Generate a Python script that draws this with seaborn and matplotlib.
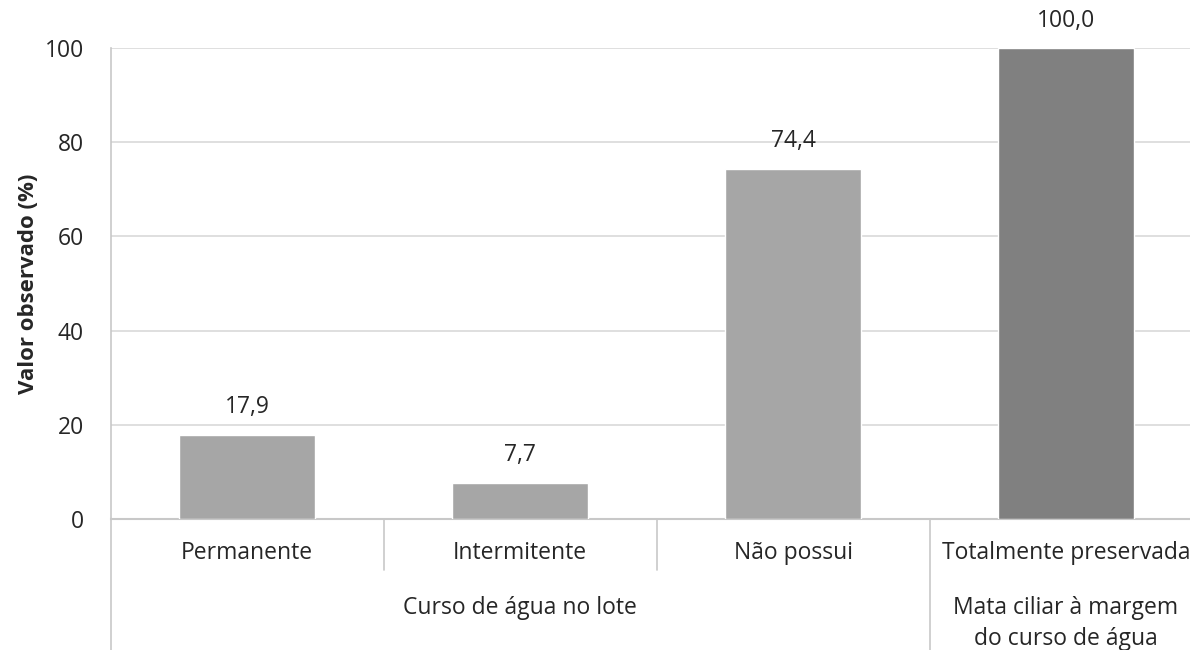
import seaborn as sns
import matplotlib.pyplot as plt
import matplotlib.transforms as mtransforms
import pandas as pd

categorias = ["Permanente", "Intermitente", "Não possui", "Totalmente preservada"]
valores = [17.9, 7.7, 74.4, 100.0]
cores = ["#A6A6A6", "#A6A6A6", "#A6A6A6", "#808080"]
grupos = ["Curso de água no lote", "Mata ciliar à margem\ndo curso de água"]
grupo_tam = [3, 1]
yticks = [0, 20, 40, 60, 80, 100]

df = pd.DataFrame({"cat": categorias, "val": valores})

sns.set_style("white")
plt.rcParams["font.family"] = ["Open Sans", "DejaVu Sans"]
fs = 16.5

fig = plt.figure(figsize=(11.9, 6.5), dpi=100)
ax = fig.add_axes([110.5 / 1190, 131 / 650, 1092 / 1190, 471 / 650])

sns.barplot(data=df, x="cat", y="val", hue="cat", palette=cores, legend=False,
            width=0.5, saturation=1, ax=ax, zorder=3)

ax.set_ylim(0, 100)
ax.set_xlim(-0.5, len(categorias) - 0.5)
ax.set_yticks(yticks)
ax.set_yticklabels([str(t) for t in yticks], fontsize=fs)
ax.tick_params(axis="y", length=0, pad=19)
ax.yaxis.grid(True, color="#D9D9D9", linewidth=1.2, zorder=0)
ax.set_xticks([])
ax.set_xlabel("")
ax.set_ylabel("Valor observado (%)", fontsize=16, fontweight="bold", labelpad=4)

for s in ["top", "right"]:
    ax.spines[s].set_visible(False)
ax.spines["left"].set_color("#C8C8C8")
ax.spines["bottom"].set_color("#C8C8C8")
ax.spines["left"].set_linewidth(1.2)
ax.spines["bottom"].set_linewidth(1.5)

for i, v in enumerate(valores):
    ax.annotate(f"{v:.1f}".replace(".", ","), (i, v), xytext=(0, 11),
                textcoords="offset points", ha="center", va="bottom", fontsize=fs)

trans = mtransforms.blended_transform_factory(ax.transData, ax.transAxes)
for i, c in enumerate(categorias):
    ax.text(i, -0.072, c, transform=trans, ha="center", va="center", fontsize=fs)

# separators of the category axis
ini = 0
seps = [-0.5]
for g, n in zip(grupos, grupo_tam):
    centro = ini + (n - 1) / 2
    ax.text(centro, -0.164, g, transform=trans, ha="center", va="top",
            fontsize=fs, linespacing=1.4)
    for k in range(1, n):
        seps.append(ini + k - 0.5)
    ini += n
    seps.append(ini - 0.5)

grupo_bordas = [-0.5] + [sum(grupo_tam[:j + 1]) - 0.5 for j in range(len(grupo_tam))]
for x in seps:
    baixo = -0.278 if x in grupo_bordas else -0.108
    ax.plot([x, x], [0, baixo], transform=trans, color="#C8C8C8", lw=1.2,
            clip_on=False)

fig.savefig("out.png", dpi=100)
